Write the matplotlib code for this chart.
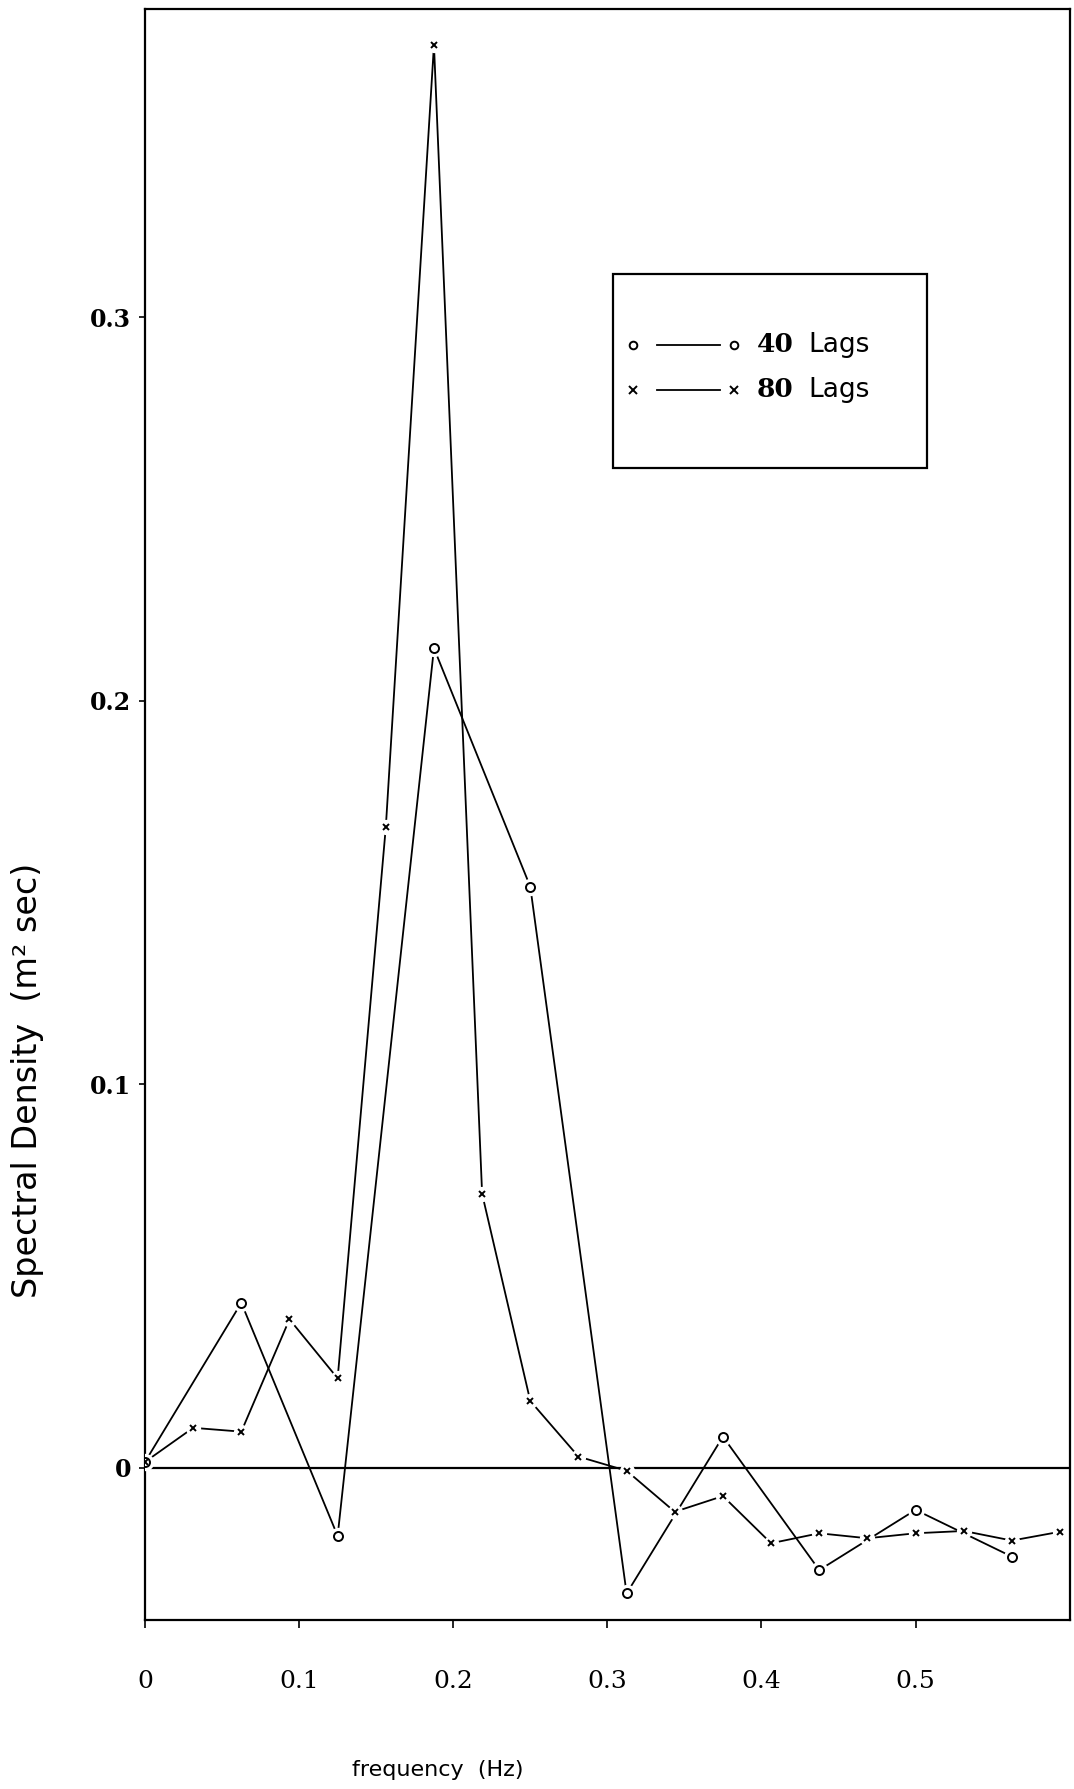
import matplotlib
matplotlib.use("Agg")
import matplotlib.pyplot as plt
from matplotlib.patches import Rectangle

# spectral density estimates
freq_40 = [0.0, 0.0625, 0.125, 0.1875, 0.25, 0.3125, 0.375, 0.4375, 0.5, 0.5625]
dens_40 = [0.0015, 0.0430, -0.0178, 0.2137, 0.1515, -0.0328, 0.0081, -0.0267, -0.0110, -0.0232]

freq_80 = [0.0, 0.03125, 0.0625, 0.09375, 0.125, 0.15625, 0.1875, 0.21875, 0.25, 0.28125,
           0.3125, 0.34375, 0.375, 0.40625, 0.4375, 0.46875, 0.5, 0.53125, 0.5625, 0.59375]
dens_80 = [0.0015, 0.0104, 0.0094, 0.0387, 0.0233, 0.167, 0.371, 0.0714, 0.0174, 0.0029,
           -0.0008, -0.0115, -0.0074, -0.0197, -0.0171, -0.0184, -0.0171, -0.0165, -0.0190, -0.0167]

xticks = [0, 0.1, 0.2, 0.3, 0.4, 0.5]
xlabels = ['0', '0.1', '0.2', '0.3', '0.4', '0.5']
yticks = [0, 0.1, 0.2, 0.3]
ylabels = ['0', '0.1', '0.2', '0.3']
series_labels = ['40', '80']

fig = plt.figure(figsize=(10.74, 17.89), dpi=100)
ax = fig.add_axes([0.135, 0.0945, 0.861, 0.9005])

ax.axhline(0, color='black', lw=1.6, zorder=1)

for f, d, m, ms in [(freq_40, dens_40, 'o', 6.5), (freq_80, dens_80, 'x', 5)]:
    ax.plot(f, d, color='black', lw=1.3, zorder=2)
    # white halo so lines stop short of the symbols, like the pen plot
    ax.plot(f, d, ls='none', marker='o', ms=ms + 6, mfc='white', mec='none', zorder=3)
    ax.plot(f, d, ls='none', marker=m, ms=ms, mfc='white', mec='black', mew=1.4, zorder=4)

ax.set_xlim(0, 0.6)
ax.set_ylim(-0.0397, 0.3804)
ax.set_xticks(xticks)
ax.set_xticklabels(xlabels, family='DejaVu Serif', fontsize=18)
ax.set_yticks(yticks)
ax.set_yticklabels(ylabels, family='DejaVu Serif', fontsize=17, fontweight='bold')
ax.tick_params(axis='x', direction='out', length=6, width=1.2, pad=30)
ax.tick_params(axis='y', direction='out', length=4, width=1.2, pad=6)
for s in ax.spines.values():
    s.set_linewidth(1.6)

# legend box drawn by hand
ax.add_patch(Rectangle((0.506, 0.715), 0.340, 0.1205, transform=ax.transAxes,
                       fill=False, ec='black', lw=1.6, zorder=5))
for yy, m, lab in [(0.7914, 'o', series_labels[0]), (0.7635, 'x', series_labels[1])]:
    ax.plot([0.5535, 0.6216], [yy, yy], transform=ax.transAxes, color='black', lw=1.3)
    ax.plot([0.5276, 0.6368], [yy, yy], transform=ax.transAxes, ls='none', marker=m,
            ms=5.5, mfc='white', mec='black', mew=1.4)
    ax.text(0.6616, yy, lab, transform=ax.transAxes, family='DejaVu Serif',
            fontweight='bold', fontsize=19, va='center', ha='left')
    ax.text(0.7175, yy, 'Lags', transform=ax.transAxes, family='DejaVu Sans',
            fontsize=19, va='center', ha='left')

fig.text(0.026, 0.396, 'Spectral Density  (m\u00b2 sec)', rotation=90,
         family='DejaVu Sans', fontsize=24, va='center', ha='center')
fig.text(0.408, 0.0106, 'frequency  (Hz)', family='DejaVu Sans', fontsize=16,
         va='center', ha='center')

fig.savefig('out.png', dpi=100)
